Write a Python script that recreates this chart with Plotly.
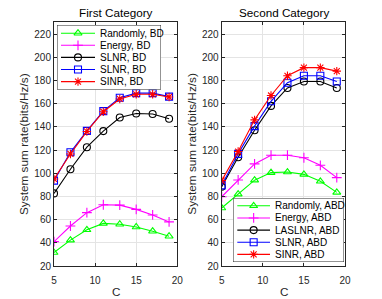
import plotly.graph_objects as go

C = [5, 7, 9, 11, 13, 15, 17, 19]

# First Category (BD)
bd_random = [31.6, 42.3, 51.2, 56.7, 56.0, 53.6, 50.0, 45.7]
bd_energy = [41.0, 54.5, 66.0, 72.8, 72.5, 68.8, 64.0, 58.0]
bd_slnr_black = [82.6, 103.4, 122.4, 136.3, 148.0, 151.5, 151.0, 147.0]
bd_slnr_blue = [93.6, 118.0, 136.5, 153.5, 165.0, 169.0, 169.0, 166.0]
bd_sinr = [95.0, 116.6, 136.0, 153.0, 164.0, 168.0, 168.0, 165.7]

# Second Category (ABD)
abd_random = [70.0, 82.0, 94.0, 100.5, 101.0, 99.0, 93.0, 83.5]
abd_energy = [79.7, 94.2, 108.0, 115.5, 115.5, 113.3, 106.8, 96.2]
abd_laslnr = [88.4, 113.8, 137.0, 158.0, 173.5, 179.0, 179.0, 173.5]
abd_slnr = [89.5, 116.7, 140.6, 162.0, 178.0, 184.0, 184.0, 179.0]
abd_sinr = [93.6, 118.7, 146.0, 167.0, 184.0, 191.0, 191.0, 188.0]

x_ticks = [5, 10, 15, 20]
y_ticks = [20, 40, 60, 80, 100, 120, 140, 160, 180, 200, 220]

left_names = ["Randomly, BD", "Energy, BD", "SLNR, BD", "SLNR, BD", "SINR, BD"]
right_names = ["Randomly, ABD", "Energy, ABD", "LASLNR, ABD", "SLNR, ABD", "SINR, ABD"]
left_values = [bd_random, bd_energy, bd_slnr_black, bd_slnr_blue, bd_sinr]
right_values = [abd_random, abd_energy, abd_laslnr, abd_slnr, abd_sinr]

colors = ["#00ff00", "#ff00ff", "#000000", "#0000ff", "#ff0000"]
symbols = ["triangle-up-open", "cross-thin-open", "circle-open", "square-open", "asterisk-open"]

W, H = 382, 299
fnt = "Liberation Sans, Arial, sans-serif"
axcol = "#262626"
gridcol = "#e4e4e4"

fig = go.Figure()


def add_series(names, values, xa, ya):
    for name, ys, col, sym in zip(names, values, colors, symbols):
        fig.add_trace(go.Scatter(
            x=C, y=ys, name=name, mode="lines+markers", showlegend=False,
            line=dict(color=col, width=1.1),
            marker=dict(symbol=sym, size=7, color=col, line=dict(width=1.1, color=col)),
            xaxis=xa, yaxis=ya,
        ))


add_series(left_names, left_values, "x", "y")
add_series(right_names, right_values, "x2", "y2")


def xax(domain, anchor):
    return dict(domain=domain, anchor=anchor, range=[5, 20], tickvals=x_ticks,
                showgrid=True, gridcolor=gridcol, gridwidth=1, zeroline=False,
                showline=True, linecolor=axcol, linewidth=1, mirror="ticks",
                ticks="inside", ticklen=3, tickcolor=axcol, ticklabelstandoff=5,
                tickfont=dict(size=10, color=axcol, family=fnt))


def yax(domain, anchor):
    return dict(domain=domain, anchor=anchor, range=[20, 230], tickvals=y_ticks,
                showgrid=True, gridcolor=gridcol, gridwidth=1, zeroline=False,
                showline=True, linecolor=axcol, linewidth=1, mirror="ticks",
                ticks="inside", ticklen=3, tickcolor=axcol,
                tickfont=dict(size=10, color=axcol, family=fnt))


ydom = [1 - 266 / H, 1 - 22.4 / H]
x1dom = [54 / W, 177.3 / W]
x2dom = [221.7 / W, 345 / W]

# legend boxes (pixel layout: left, top, width, height, first-row offset, row step,
# line start, line end, text start)
legend_boxes = [
    dict(names=left_names, x0=57, y0=25, w=104, h=64.5, r0=8.2, dr=12.1,
         l0=4, l1=38, t0=40.5, xa="x3", ya="y3"),
    dict(names=right_names, x0=233, y0=198, w=111, h=64, r0=7.8, dr=12.15,
         l0=4.3, l1=37, t0=39.5, xa="x4", ya="y4"),
]

layout_axes = {}
shapes = []
annotations = []
for k, lb in enumerate(legend_boxes):
    xa_name = "xaxis%d" % (3 + k)
    ya_name = "yaxis%d" % (3 + k)
    layout_axes[xa_name] = dict(domain=[lb["x0"] / W, (lb["x0"] + lb["w"]) / W],
                                anchor=lb["ya"], range=[0, lb["w"]], visible=False,
                                fixedrange=True)
    layout_axes[ya_name] = dict(domain=[1 - (lb["y0"] + lb["h"]) / H, 1 - lb["y0"] / H],
                                anchor=lb["xa"], range=[lb["h"], 0], visible=False,
                                fixedrange=True)
    shapes.append(dict(type="rect", xref=lb["xa"], yref=lb["ya"], x0=0, x1=lb["w"],
                       y0=0, y1=lb["h"], fillcolor="white",
                       line=dict(color=axcol, width=1), layer="between"))
    for i, (name, col, sym) in enumerate(zip(lb["names"], colors, symbols)):
        ry = lb["r0"] + lb["dr"] * i
        fig.add_trace(go.Scatter(
            x=[lb["l0"], lb["l1"]], y=[ry, ry], mode="lines", showlegend=False,
            line=dict(color=col, width=1.1), hoverinfo="skip",
            xaxis=lb["xa"], yaxis=lb["ya"]))
        fig.add_trace(go.Scatter(
            x=[(lb["l0"] + lb["l1"]) / 2], y=[ry], mode="markers", showlegend=False,
            marker=dict(symbol=sym, size=7, color=col, line=dict(width=1.1, color=col)),
            hoverinfo="skip", xaxis=lb["xa"], yaxis=lb["ya"]))
        annotations.append(dict(text=name, x=lb["t0"], y=ry, xref=lb["xa"], yref=lb["ya"],
                                xanchor="left", yanchor="middle", showarrow=False,
                                font=dict(size=10, color="#000", family=fnt)))


def paper_text(text, x, y, size, color, angle=0):
    return dict(text=text, x=x / W, y=1 - y / H, xref="paper", yref="paper",
                xanchor="center", yanchor="middle", showarrow=False, textangle=angle,
                font=dict(size=size, color=color, family=fnt))


annotations += [
    paper_text("First Category", 115.5, 13, 11.7, "#000"),
    paper_text("Second Category", 283.5, 13, 11.7, "#000"),
    paper_text("C", 115.5, 291.5, 11.7, axcol),
    paper_text("C", 283.5, 291.5, 11.7, axcol),
    paper_text("System sum rate(bits/Hz/s)", 24, 144, 11.8, axcol, -90),
    paper_text("System sum rate(bits/Hz/s)", 191.7, 144, 11.8, axcol, -90),
]

fig.update_layout(
    width=W, height=H,
    margin=dict(l=0, r=0, t=0, b=0, autoexpand=False),
    paper_bgcolor="white", plot_bgcolor="white",
    font=dict(family=fnt, color=axcol),
    xaxis=xax(x1dom, "y"), yaxis=yax(ydom, "x"),
    xaxis2=xax(x2dom, "y2"), yaxis2=yax(ydom, "x2"),
    showlegend=False,
    hovermode=False,
    shapes=shapes,
    annotations=annotations,
    **layout_axes,
)

fig.write_html("out.html", config={"displayModeBar": False},
               post_script="document.body.style.margin='0px';")
